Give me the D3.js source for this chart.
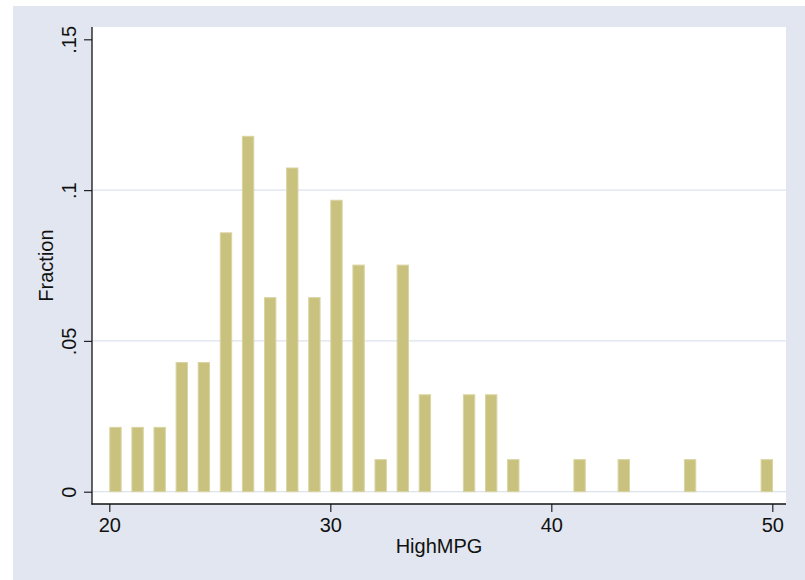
<!DOCTYPE html>
<html>
<head>
<meta charset="utf-8">
<script src="https://cdn.jsdelivr.net/npm/d3@7"></script>
<style>
  html, body { margin: 0; padding: 0; background: #ffffff; }
  svg { display: block; }
  text { font-family: "Liberation Sans", Arial, Helvetica, sans-serif; }
</style>
</head>
<body>
<div id="chart"></div>
<script>
// ---- data ----
const binStarts = [20, 21, 22, 23, 24, 25, 26, 27, 28, 29, 30, 31, 32, 33, 34, 36, 37, 38, 41, 43, 46, 49.47];
const fractions = [0.0215, 0.0215, 0.0215, 0.043, 0.043, 0.086, 0.118, 0.0645, 0.1075, 0.0645, 0.0968, 0.0753, 0.0108, 0.0753, 0.0323, 0.0323, 0.0323, 0.0108, 0.0108, 0.0108, 0.0108, 0.0108];
const xTicks = [20, 30, 40, 50];
const yTicks = [0, 0.05, 0.1, 0.15];
const yTickLabels = ["0", ".05", ".1", ".15"];
const yGrid = [0, 0.05, 0.1];
const xTitle = "HighMPG";
const yTitle = "Fraction";
const barWidthUnits = 0.56;

// ---- layout ----
const W = 805, H = 580;
const plot = { left: 92, right: 786, top: 27, bottom: 504 };

const svg = d3.select("#chart").append("svg")
  .attr("width", W).attr("height", H);

svg.append("rect").attr("x", 0).attr("y", 0).attr("width", W).attr("height", H).attr("fill", "#ffffff");
svg.append("rect").attr("x", 13).attr("y", 6).attr("width", W - 13).attr("height", H - 6).attr("fill", "#E1E6F0");
svg.append("rect").attr("x", plot.left).attr("y", plot.top)
  .attr("width", plot.right - plot.left).attr("height", plot.bottom - plot.top).attr("fill", "#ffffff");

const x = d3.scaleLinear().domain([20, 50]).range([109.3, 772.3]);
const y = d3.scaleLinear().domain([0, 0.15]).range([491.7, 39.3]);

// gridlines
svg.append("g").selectAll("line").data(yGrid).join("line")
  .attr("x1", plot.left + 1).attr("x2", plot.right)
  .attr("y1", d => y(d)).attr("y2", d => y(d))
  .attr("stroke", "#DCE2EE").attr("stroke-width", 1.3);

// bars
const bars = binStarts.map((s, i) => ({ s, f: fractions[i] }));
svg.append("g").selectAll("rect").data(bars).join("rect")
  .attr("x", d => x(d.s) + 0.5)
  .attr("width", d => x(d.s + barWidthUnits) - x(d.s) - 1)
  .attr("y", d => y(d.f) + 0.5)
  .attr("height", d => y(0) - y(d.f) - 0.5)
  .attr("fill", "#C9C27E")
  .attr("stroke", "#DAD4A3")
  .attr("stroke-width", 1);

// y axis
const yAxis = d3.axisLeft(y).tickValues(yTicks).tickSize(8).tickSizeOuter(0)
  .tickFormat((d, i) => yTickLabels[i]);
const gy = svg.append("g").attr("transform", `translate(${plot.left},0)`).call(yAxis);
gy.select(".domain").remove();
gy.selectAll(".tick line").attr("stroke", "#222").attr("stroke-width", 1.2);
gy.selectAll(".tick text")
  .attr("x", 0).attr("y", 0).attr("dy", null)
  .attr("transform", `translate(${75.5 - plot.left},0) rotate(-90)`)
  .attr("text-anchor", "middle")
  .attr("font-size", 20)
  .attr("font-family", "'Liberation Sans', Arial, Helvetica, sans-serif")
  .attr("fill", "#111");
svg.append("line").attr("x1", plot.left).attr("x2", plot.left)
  .attr("y1", plot.top).attr("y2", plot.bottom + 0.6)
  .attr("stroke", "#111").attr("stroke-width", 1.3);

// x axis
const xAxis = d3.axisBottom(x).tickValues(xTicks).tickSize(8).tickSizeOuter(0)
  .tickFormat(d3.format("d"));
const gx = svg.append("g").attr("transform", `translate(0,${plot.bottom})`).call(xAxis);
gx.select(".domain").remove();
gx.selectAll(".tick line").attr("stroke", "#222").attr("stroke-width", 1.2);
gx.selectAll(".tick text")
  .attr("y", 531.7 - plot.bottom).attr("dy", null)
  .attr("font-size", 20)
  .attr("font-family", "'Liberation Sans', Arial, Helvetica, sans-serif")
  .attr("fill", "#111");
svg.append("line").attr("x1", plot.left - 0.6).attr("x2", plot.right)
  .attr("y1", plot.bottom).attr("y2", plot.bottom)
  .attr("stroke", "#111").attr("stroke-width", 1.3);

// titles
svg.append("text").attr("x", (plot.left + plot.right) / 2).attr("y", 553.3)
  .attr("text-anchor", "middle").attr("font-size", 20).attr("fill", "#111").text(xTitle);
svg.append("text").attr("transform", `translate(53,${(plot.top + plot.bottom) / 2}) rotate(-90)`)
  .attr("text-anchor", "middle").attr("font-size", 20).attr("fill", "#111").text(yTitle);
</script>
</body>
</html>
